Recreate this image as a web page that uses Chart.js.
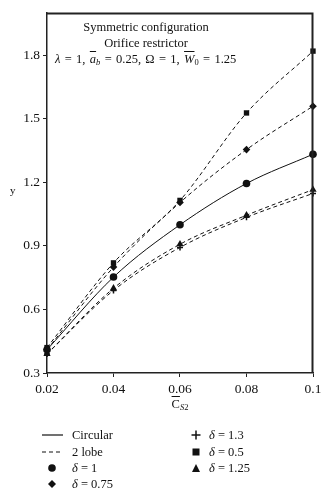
<!DOCTYPE html>
<html>
<head>
<meta charset="utf-8">
<script src="https://cdn.jsdelivr.net/npm/chart.js@4/dist/chart.umd.min.js"></script>
<style>
  body { margin: 0; background: #fff; }
  #wrap { position: relative; width: 333px; height: 500px; font-family: "Liberation Serif", "DejaVu Serif", serif; color: #111; }
  #chart { position: absolute; left: 0; top: 0; }
  .txt { position: absolute; font-size: 12.5px; white-space: nowrap; line-height: 1; }
  .ov { text-decoration: overline; }
  sub { font-size: 8.5px; vertical-align: -2px; }
  .leg { position: absolute; font-size: 12.5px; white-space: nowrap; line-height: 1; display: flex; align-items: center; }
  .leg svg { margin-right: 7px; }
  .leg.r svg { margin-right: 6px; }
</style>
</head>
<body>
<div id="wrap">
  <canvas id="chart" width="333" height="500"></canvas>

  <div class="txt" style="left:146px; top:21px; transform:translateX(-50%);">Symmetric configuration</div>
  <div class="txt" style="left:146px; top:37px; transform:translateX(-50%);">Orifice restrictor</div>
  <div class="txt" style="left:55px; top:53px; word-spacing:1.2px;"><i>λ</i> = 1, <i class="ov">a</i><sub><i>b</i></sub> = 0.25, Ω = 1, <i class="ov">W</i><sub>0</sub> = 1.25</div>

  <div class="txt" style="left:10px; top:185px; font-size:11px;">y</div>
  <div class="txt" style="left:180px; top:398px; transform:translateX(-50%);"><span class="ov">C</span><sub><i>S</i>2</sub></div>

  <div class="leg" style="left:41px; top:429px;">
    <svg width="24" height="12"><line x1="1" y1="6" x2="22" y2="6" stroke="#111" stroke-width="1.2"/></svg>Circular</div>
  <div class="leg" style="left:41px; top:446px;">
    <svg width="24" height="12"><line x1="1" y1="6" x2="22" y2="6" stroke="#111" stroke-width="1.2" stroke-dasharray="4,3"/></svg>2 lobe</div>
  <div class="leg" style="left:41px; top:462px;">
    <svg width="24" height="12"><circle cx="11" cy="6" r="3.8" fill="#111"/></svg><i>δ</i>&nbsp;= 1</div>
  <div class="leg" style="left:41px; top:478px;">
    <svg width="24" height="12"><polygon points="11,2 15,6 11,10 7,6" fill="#111"/></svg><i>δ</i>&nbsp;= 0.75</div>

  <div class="leg r" style="left:185px; top:429px;">
    <svg width="18" height="12"><line x1="11" y1="1.5" x2="11" y2="10.5" stroke="#111" stroke-width="1.5"/><line x1="6.5" y1="6" x2="15.5" y2="6" stroke="#111" stroke-width="1.5"/></svg><i>δ</i>&nbsp;= 1.3</div>
  <div class="leg r" style="left:185px; top:446px;">
    <svg width="18" height="12"><rect x="7.5" y="2.5" width="7" height="7" fill="#111"/></svg><i>δ</i>&nbsp;= 0.5</div>
  <div class="leg r" style="left:185px; top:462px;">
    <svg width="18" height="12"><polygon points="11,2 15,10 7,10" fill="#111"/></svg><i>δ</i>&nbsp;= 1.25</div>
</div>

<script>
// x positions (C_S2) and y values
const xValues = [0.02, 0.04, 0.06, 0.08, 0.1];
const circularD1 = [0.41, 0.753, 1.0, 1.195, 1.333];
const lobeD05 = [0.42, 0.82, 1.115, 1.528, 1.82];
const lobeD075 = [0.41, 0.80, 1.105, 1.355, 1.56];
const lobeD125 = [0.39, 0.70, 0.908, 1.045, 1.166];
const lobeD13 = [0.39, 0.69, 0.893, 1.035, 1.148];
const yTickValues = [0.3, 0.6, 0.9, 1.2, 1.5, 1.8];
const xTickValues = [0.02, 0.04, 0.06, 0.08, 0.1];

const ink = '#111';
const axisInk = '#222';

function pts(ys) {
  return ys.map((y, i) => ({ x: xValues[i], y: y }));
}

function series(label, ys, style, radius, dashed) {
  return {
    label: label,
    data: pts(ys),
    borderColor: ink,
    backgroundColor: ink,
    borderWidth: 1,
    borderDash: dashed ? [4, 3] : [],
    pointStyle: style,
    pointRadius: radius,
    pointBorderWidth: style === 'cross' ? 1.5 : 0,
    pointBorderColor: ink,
    pointBackgroundColor: ink,
    cubicInterpolationMode: 'monotone',
    clip: false,
    fill: false
  };
}

// top and right sides of the box, drawn after everything else
const frame = {
  id: 'plotFrame',
  afterDraw(chart) {
    const a = chart.chartArea;
    const c = chart.ctx;
    c.save();
    c.setLineDash([]);
    c.globalAlpha = 1;
    c.strokeStyle = axisInk;
    c.lineWidth = 2;
    c.beginPath();
    c.moveTo(a.left, a.top + 0.5);
    c.lineTo(a.right - 0.5, a.top + 0.5);
    c.lineTo(a.right - 0.5, a.bottom);
    c.stroke();
    c.restore();
  }
};

new Chart(document.getElementById('chart').getContext('2d'), {
  type: 'line',
  data: {
    datasets: [
      series('δ = 0.5', lobeD05, 'rect', 3.8, true),
      series('δ = 0.75', lobeD075, 'rectRot', 3.8, true),
      series('δ = 1', circularD1, 'circle', 3.8, false),
      series('δ = 1.25', lobeD125, 'triangle', 4.2, true),
      series('δ = 1.3', lobeD13, 'cross', 3, true)
    ]
  },
  options: {
    responsive: false,
    animation: false,
    layout: { padding: { top: 13, right: 20, bottom: 0, left: 0 } },
    plugins: { legend: { display: false }, tooltip: { enabled: false } },
    scales: {
      x: {
        type: 'linear',
        min: 0.02,
        max: 0.1,
        afterBuildTicks: axis => { axis.ticks = xTickValues.map(v => ({ value: v })); },
        afterFit: axis => { axis.height = 127; },
        grid: { drawOnChartArea: false, drawTicks: true, tickLength: 4, color: axisInk },
        border: { color: axisInk, width: 1.5 },
        ticks: {
          color: ink,
          padding: 4,
          maxRotation: 0,
          font: { family: '"Liberation Serif", serif', size: 13.5 },
          callback: v => String(Number(v.toFixed(2)))
        }
      },
      y: {
        type: 'linear',
        min: 0.3,
        max: 2.0,
        afterBuildTicks: axis => { axis.ticks = yTickValues.map(v => ({ value: v })); },
        afterFit: axis => { axis.width = 47; },
        grid: { drawOnChartArea: false, drawTicks: true, tickLength: 4, color: axisInk },
        border: { color: axisInk, width: 1.5 },
        ticks: {
          color: ink,
          padding: 3,
          font: { family: '"Liberation Serif", serif', size: 13.5 },
          callback: v => v.toFixed(1)
        }
      }
    }
  },
  plugins: [frame]
});
</script>
</body>
</html>
